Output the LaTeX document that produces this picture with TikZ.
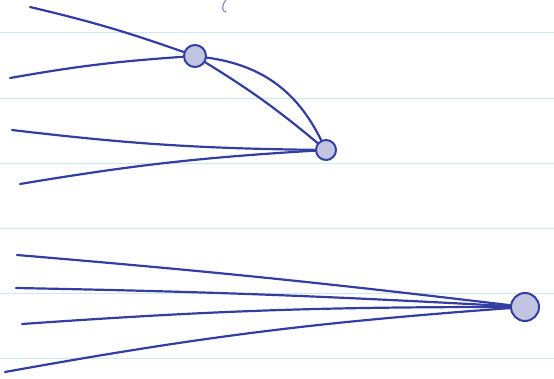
\documentclass[tikz,border=0pt]{standalone}
\usepackage{xcolor}
\definecolor{penblue}{RGB}{52,62,160}
\definecolor{ruleblue}{RGB}{205,232,240}
\usetikzlibrary{positioning,calc}

\begin{document}
\begin{tikzpicture}[x=1pt,y=-1pt,
  vertex/.style={circle,draw=penblue,line width=2pt,fill=penblue!30,minimum size=22pt,inner sep=0pt},
  leg/.style={draw=penblue,line width=2.2pt,line cap=round},
  ruling/.style={draw=ruleblue,line width=0.8pt}
]
  \useasboundingbox (0,0) rectangle (554,379);
  % paper ruling
  \foreach \y in {32,98,163,228,293,358}
    \draw[ruling] (0,\y) -- (554,\y);
  % vertices
  \node[vertex] (va) at (195,56) {};
  \node[vertex,minimum size=20pt] (vb) at (326,150) {};
  \node[vertex,minimum size=28pt] (vc) at (525,307) {};
  % free ends
  \coordinate (a1) at (30,7);
  \coordinate (a2) at (10,78);
  \coordinate (b1) at (12,130);
  \coordinate (b2) at (20,184);
  \coordinate (c1) at (17,255);
  \coordinate (c2) at (16,288);
  \coordinate (c3) at (22,324);
  \coordinate (c4) at (5,372);
  % first diagram
  \draw[leg] (a1) to[bend left=3] (va);
  \draw[leg] (a2) to[bend left=3] (va);
  \draw[leg] (va) to[bend left=28] (vb);
  \draw[leg] (va) to[bend left=4] (vb);
  \draw[leg] (b1) to[bend right=3] (vb);
  \draw[leg] (b2) to[bend left=3] (vb);
  % second diagram
  \draw[leg] (c1) to[bend left=1] (vc);
  \draw[leg] (c2) to[bend left=1] (vc);
  \draw[leg] (c3) to[bend left=2] (vc);
  \draw[leg] (c4) to[bend left=3] (vc);
  % stray pen mark
  \draw[draw=penblue!60,line width=1.2pt,line cap=round] (226,0) .. controls (221,6) and (222,12) .. (226,12);
\end{tikzpicture}
\end{document}
